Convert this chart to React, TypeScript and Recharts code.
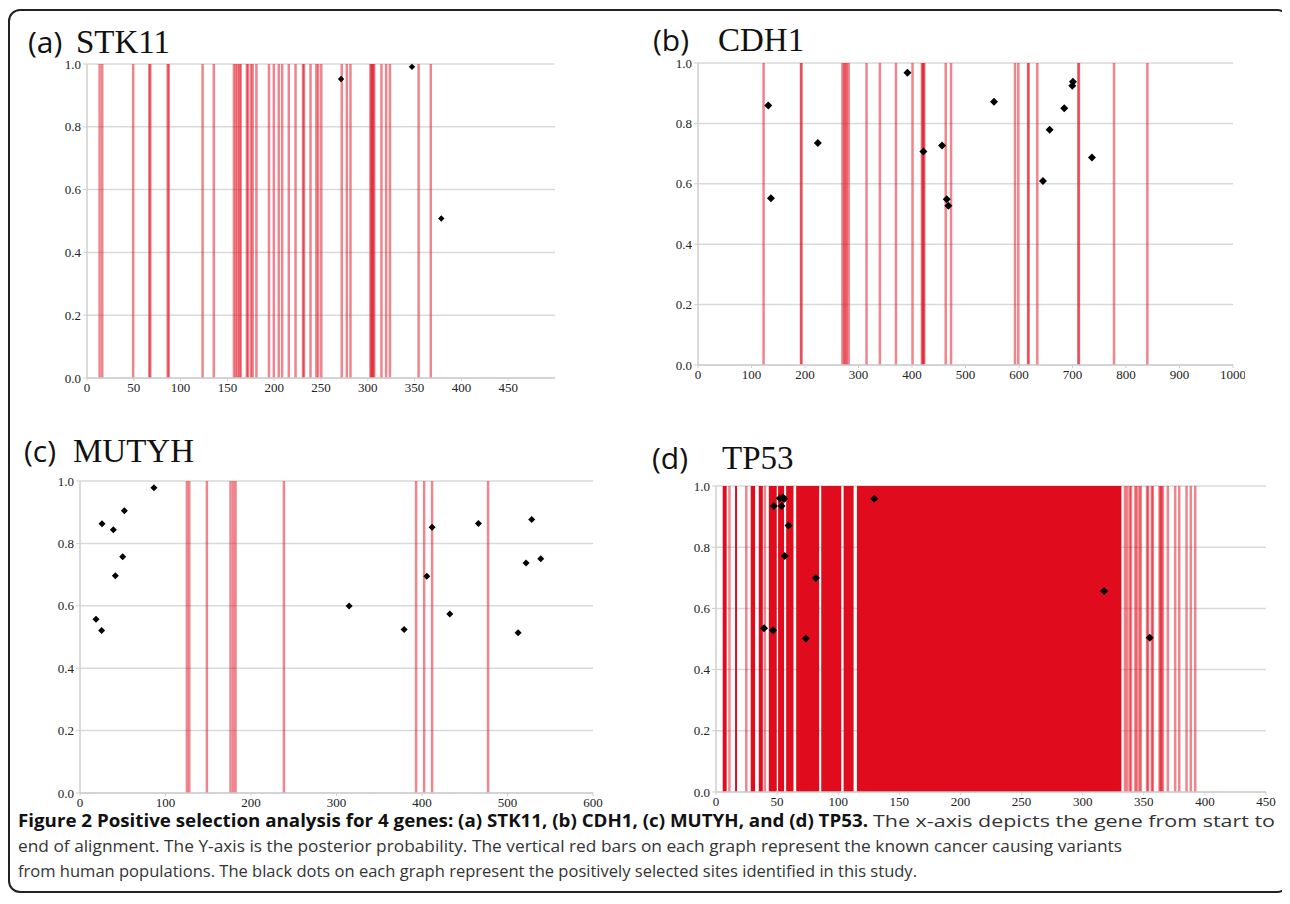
import React from "react";
import {
  ScatterChart,
  Scatter,
  XAxis,
  YAxis,
  CartesianGrid,
  ReferenceLine,
  ReferenceArea,
} from "recharts";

const SERIF = '"Liberation Serif", "Times New Roman", Times, serif';
const SANS = '"Open Sans", "Noto Sans", sans-serif';

const RED = "#e00b1c";
const PROB_TICKS = [0, 0.2, 0.4, 0.6, 0.8, 1];

// (a) STK11
const STK11_TICKS = [0, 50, 100, 150, 200, 250, 300, 350, 400, 450];
const STK11_VARIANTS = [
  13.5, 16.3, 49.3, 66.6, 67.6, 86.2, 87.3, 123.5, 135.5, 157, 159, 161, 163,
  164.2, 170.8, 172, 175.2, 177, 181, 194.4, 199.6, 204.9, 208.5, 215.6, 222.8,
  230.8, 231.8, 238.8, 245, 247, 250.3, 272.2, 277.6, 281.5, 302.8, 303.8,
  304.8, 305.8, 306.8, 314.6, 319.6, 323.6, 354.3, 367.3,
];
const STK11_SITES = [271.4, 347.2, 378.5];
const STK11_PROB = [0.952, 0.991, 0.508];

// (b) CDH1
const CDH1_TICKS = [0, 100, 200, 300, 400, 500, 600, 700, 800, 900, 1000];
const CDH1_VARIANTS = [
  122.6, 192.5, 193.3, 270, 273, 275.5, 278, 281.7, 315, 340, 370, 401, 418.5,
  420, 421.5, 423, 463, 473, 592.5, 598.7, 617, 617.8, 634.2, 711, 712, 777.6,
  839.9,
];
const CDH1_SITES = [
  131.3, 136.3, 224, 391.5, 421.3, 456.2, 465, 468, 553.3, 644.8, 657.3, 684.6,
  699.6, 700.8, 736.3,
];
const CDH1_PROB = [
  0.859, 0.552, 0.735, 0.968, 0.707, 0.727, 0.549, 0.527, 0.872, 0.609, 0.779,
  0.85, 0.925, 0.938, 0.687,
];

// (c) MUTYH
const MUTYH_TICKS = [0, 100, 200, 300, 400, 500, 600];
const MUTYH_VARIANTS = [
  125, 127.8, 148.4, 176.1, 179.2, 181.9, 238.5, 393.1, 402.5, 411.8, 477.3,
];
const MUTYH_SITES = [
  18.7, 25.3, 25.7, 39, 41.3, 49.9, 51.9, 86.5, 314.8, 379.1, 405.6, 411.8,
  432.5, 466, 512.4, 521.7, 528.3, 538.9,
];
const MUTYH_PROB = [
  0.557, 0.521, 0.863, 0.844, 0.696, 0.757, 0.905, 0.978, 0.599, 0.524, 0.695,
  0.852, 0.574, 0.864, 0.514, 0.737, 0.877, 0.751,
];

// (d) TP53 - dense stretches drawn as solid blocks
const TP53_TICKS = [0, 50, 100, 150, 200, 250, 300, 350, 400, 450];
const TP53_BLOCKS: [number, number][] = [
  [5.5, 8.7], [15.6, 17.2], [28.4, 32], [35, 38.3], [43.2, 49.7], [50.8, 55.7],
  [57.4, 63.4], [65.6, 84.4], [86.1, 102.5], [104.4, 112.6], [115.3, 331.7],
];
const TP53_VARIANTS = [
  11, 24.8, 40, 334.6, 336.3, 338.5, 339.6, 343.1, 344.2, 346.4, 347.5, 352.7,
  353.5, 356.6, 357.4, 362.9, 363.8, 364.5, 365.6, 369.7, 375.7, 379, 385,
  388.5, 392.1,
];
const TP53_SITES = [
  39.3, 46.7, 47.3, 52.2, 53.6, 54.6, 56, 56.3, 59.3, 73.5, 81.7, 129.5, 317.5,
  354.9,
];
const TP53_PROB = [
  0.535, 0.529, 0.935, 0.96, 0.935, 0.962, 0.958, 0.771, 0.871, 0.502, 0.699,
  0.958, 0.657, 0.504,
];

const Y_W = 40;
const X_H = 30;
const PAD_T = 10;
const PAD_R = 12;

type PanelProps = {
  left: number;
  top: number;
  width: number;
  height: number;
  xMax: number;
  xTicks: number[];
  variants: number[];
  blocks?: [number, number][];
  sites: number[];
  probs: number[];
  dotR: number;
};

const Diamond = ({ cx, cy, r }: { cx?: number; cy?: number; r: number }) => {
  if (cx == null || cy == null) return null;
  return (
    <path
      d={`M${cx},${cy - r}L${cx + r},${cy}L${cx},${cy + r}L${cx - r},${cy}Z`}
      fill="#000"
    />
  );
};

const Panel = ({
  left,
  top,
  width,
  height,
  xMax,
  xTicks,
  variants,
  blocks = [],
  sites,
  probs,
  dotR,
}: PanelProps) => {
  const data = sites.map((x, i) => ({ x, y: probs[i] }));
  const tick = { fontFamily: SERIF, fontSize: 13, fill: "#222" };
  return (
    <div
      style={{
        position: "absolute",
        left: left - Y_W,
        top: top - PAD_T,
        fontFamily: SERIF,
      }}
    >
      <ScatterChart
        width={width + Y_W + PAD_R}
        height={height + PAD_T + X_H}
        margin={{ top: PAD_T, right: PAD_R, bottom: 0, left: 0 }}
        style={{ fontFamily: SERIF }}
      >
        <CartesianGrid vertical={false} stroke="#d9d9d9" strokeWidth={1.5} />
        <XAxis
          type="number"
          dataKey="x"
          domain={[0, xMax]}
          ticks={xTicks}
          interval={0}
          height={X_H}
          tick={tick}
          tickSize={3}
          tickLine={{ stroke: "#cfcfcf" }}
          axisLine={{ stroke: "#cfcfcf", strokeWidth: 1.5 }}
          allowDataOverflow
        />
        <YAxis
          type="number"
          dataKey="y"
          domain={[0, 1]}
          ticks={PROB_TICKS}
          interval={0}
          width={Y_W}
          tick={tick}
          tickSize={4}
          tickFormatter={(v: number) => v.toFixed(1)}
          tickLine={{ stroke: "#cfcfcf" }}
          axisLine={{ stroke: "#cfcfcf", strokeWidth: 1.5 }}
        />
        {blocks.map(([a, b], i) => (
          <ReferenceArea
            key={`blk-${i}`}
            x1={a}
            x2={b}
            y1={0}
            y2={1}
            fill={RED}
            fillOpacity={1}
            stroke="none"
          />
        ))}
        {variants.map((v, i) => (
          <ReferenceLine
            key={`var-${i}`}
            x={v}
            stroke={RED}
            strokeOpacity={0.5}
            strokeWidth={2.5}
          />
        ))}
        <Scatter
          data={data}
          isAnimationActive={false}
          shape={(p: any) => <Diamond cx={p.cx} cy={p.cy} r={dotR} />}
        />
      </ScatterChart>
    </div>
  );
};

const Title = ({ x, y, tag, gene, gap }: { x: number; y: number; tag: string; gene: string; gap: number }) => (
  <>
    <text x={x} y={y} fontFamily={SANS} fontSize={30} fill="#111">
      {tag}
    </text>
    <text x={x + gap} y={y} fontFamily={SERIF} fontSize={33} fill="#111">
      {gene}
    </text>
  </>
);

const App = () => {
  return (
    <div style={{ position: "relative", width: 1282, height: 896 }}>
      <div
        style={{
          position: "absolute",
          left: 0,
          top: 1,
          width: 1281,
          height: 884,
          border: "2px solid #222",
          borderRadius: 12,
          boxSizing: "border-box",
        }}
      />
      <svg
        width={1282}
        height={896}
        style={{ position: "absolute", left: 0, top: 0 }}
      >
        <Title x={20} y={45} tag="(a)" gene="STK11" gap={48} />
        <Title x={645} y={43} tag="(b)" gene="CDH1" gap={65} />
        <Title x={16} y={454} tag="(c)" gene="MUTYH" gap={49} />
        <Title x={644} y={461} tag="(d)" gene="TP53" gap={70} />
        <text
          x={10}
          y={819}
          fontFamily={SANS}
          fontSize={17}
          fontWeight="bold"
          fill="#111"
          textLength={850}
          lengthAdjust="spacingAndGlyphs"
        >
          Figure 2 Positive selection analysis for 4 genes: (a) STK11, (b) CDH1, (c) MUTYH, and (d) TP53.
        </text>
        <text
          x={865}
          y={819}
          fontFamily={SANS}
          fontSize={17}
          fill="#333"
          textLength={402}
          lengthAdjust="spacingAndGlyphs"
        >
          The x-axis depicts the gene from start to
        </text>
        <text
          x={10}
          y={844}
          fontFamily={SANS}
          fontSize={17}
          fill="#333"
          textLength={1104}
          lengthAdjust="spacingAndGlyphs"
        >
          end of alignment. The Y-axis is the posterior probability. The vertical red bars on each graph represent the known cancer causing variants
        </text>
        <text
          x={10}
          y={869}
          fontFamily={SANS}
          fontSize={17}
          fill="#333"
          textLength={899}
          lengthAdjust="spacingAndGlyphs"
        >
          from human populations. The black dots on each graph represent the positively selected sites identified in this study.
        </text>
      </svg>
      <Panel
        left={79}
        top={56}
        width={468}
        height={314}
        xMax={500}
        xTicks={STK11_TICKS}
        variants={STK11_VARIANTS}
        sites={STK11_SITES}
        probs={STK11_PROB}
        dotR={3.2}
      />
      <Panel
        left={690}
        top={55}
        width={535}
        height={302}
        xMax={1000}
        xTicks={CDH1_TICKS}
        variants={CDH1_VARIANTS}
        sites={CDH1_SITES}
        probs={CDH1_PROB}
        dotR={4}
      />
      <Panel
        left={72}
        top={473}
        width={513}
        height={312}
        xMax={600}
        xTicks={MUTYH_TICKS}
        variants={MUTYH_VARIANTS}
        sites={MUTYH_SITES}
        probs={MUTYH_PROB}
        dotR={3.5}
      />
      <Panel
        left={708}
        top={478}
        width={550}
        height={306}
        xMax={450}
        xTicks={TP53_TICKS}
        variants={TP53_VARIANTS}
        blocks={TP53_BLOCKS}
        sites={TP53_SITES}
        probs={TP53_PROB}
        dotR={4}
      />
    </div>
  );
};

export default App;
